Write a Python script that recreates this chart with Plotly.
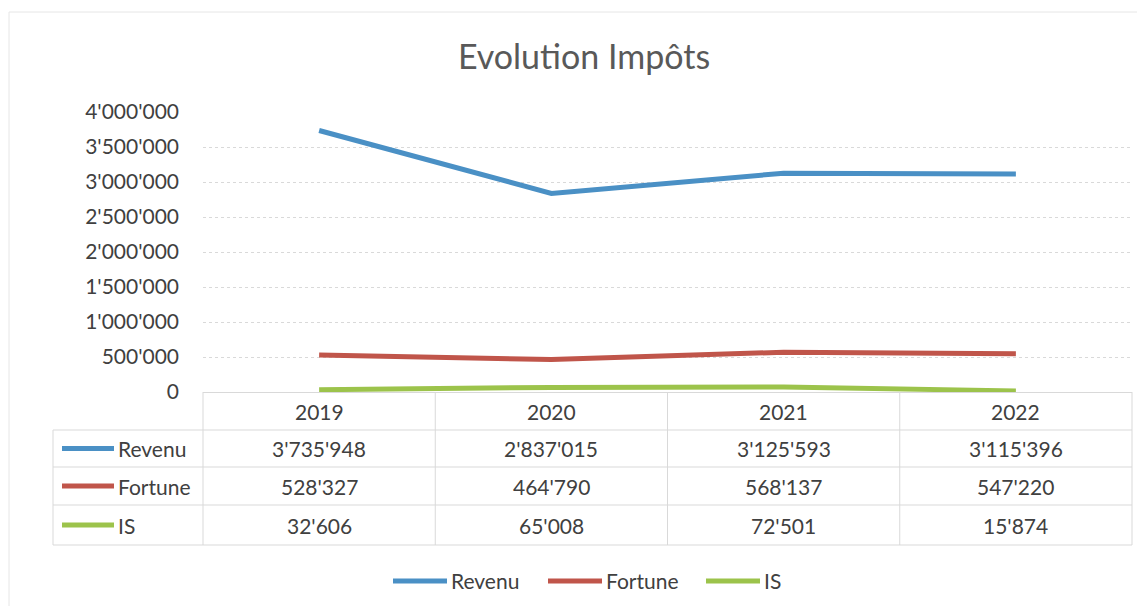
import plotly.graph_objects as go

annees = ["2019", "2020", "2021", "2022"]
revenu = [3735948, 2837015, 3125593, 3115396]
fortune = [528327, 464790, 568137, 547220]
impot_source = [32606, 65008, 72501, 15874]

series = [
    ("Revenu", revenu, "#4a90c5"),
    ("Fortune", fortune, "#c0554a"),
    ("IS", impot_source, "#9cc34b"),
]

y_ticks = [0, 500000, 1000000, 1500000, 2000000, 2500000, 3000000, 3500000, 4000000]

W, H = 1145, 612
OFF = 8  # marge du body html
FONT = "Lato"
TXT = "#404040"
GRID = "#d9d9d9"
FS = 21


def fmt(v):
    return f"{v:,}".replace(",", "'")


def px_x(x):
    return (x - OFF) / W


def px_y(y):
    return 1 - (y - OFF) / H


# zone de tracé (pixels dans la capture)
x0, x1 = 203, 1132
y_top, y_zero = 112, 392

fig = go.Figure()
for nom, vals, col in series:
    fig.add_trace(go.Scatter(
        x=annees, y=vals, name=nom, mode="lines",
        line=dict(color=col, width=5), showlegend=False,
    ))

shapes = []
annotations = []


def ligne(xa, xb, ya, yb, col=GRID, w=1):
    shapes.append(dict(type="line", xref="paper", yref="paper",
                       x0=px_x(xa), x1=px_x(xb), y0=px_y(ya), y1=px_y(yb),
                       line=dict(color=col, width=w)))


def texte(x, y, t, anchor="center"):
    annotations.append(dict(x=px_x(x), y=px_y(y), xref="paper", yref="paper",
                            xanchor=anchor, yanchor="middle", text=t, showarrow=False,
                            font=dict(size=FS, color=TXT, family=FONT)))


# cadre du graphique
ligne(9, 9, 12, 606, "#e6e6e6")
ligne(9, 1145, 12, 12, "#e6e6e6")

# tableau de données
col_w = (x1 - x0) / len(annees)
rows_y = [392, 430, 467, 505, 545]
for i in range(len(annees) + 1):
    xx = x0 + i * col_w
    ligne(xx, xx, 392, 545)
ligne(53, 53, 430, 545)
for yy in rows_y[1:]:
    ligne(53, x1, yy, yy)

for i, a in enumerate(annees):
    texte(x0 + (i + 0.5) * col_w, 411, a)

for r, (nom, vals, col) in enumerate(series):
    yc = (rows_y[r + 1] + rows_y[r + 2]) / 2
    ligne(62, 114, yc, yc, col, 5)
    texte(116, yc, nom, "left")
    for i, v in enumerate(vals):
        texte(x0 + (i + 0.5) * col_w, yc, fmt(v))

# légende du bas
leg_x = [393, 548, 706]
for (nom, vals, col), lx in zip(series, leg_x):
    ligne(lx, lx + 54, 581, 581, col, 5)
    texte(lx + 56, 580, nom, "left")

fig.update_layout(
    width=W, height=H,
    margin=dict(l=0, r=0, t=0, b=0, autoexpand=False),
    paper_bgcolor="white", plot_bgcolor="white",
    title=dict(text="Evolution Impôts", x=px_x(584), xanchor="center", y=px_y(57), yanchor="middle",
               font=dict(size=34, color="#595959", family=FONT)),
    font=dict(family=FONT, color=TXT),
    xaxis=dict(domain=[px_x(x0), px_x(x1)], range=[-0.5, 3.5], showticklabels=False,
               showgrid=False, zeroline=False, showline=False, automargin=False),
    yaxis=dict(domain=[px_y(y_zero), px_y(y_top)], range=[0, 4000000],
               tickvals=y_ticks, ticktext=[fmt(v) for v in y_ticks],
               tickfont=dict(size=FS, color=TXT, family=FONT), ticks="", ticklabelstandoff=23,
               showgrid=True, gridcolor=GRID, griddash="dot", gridwidth=1,
               zeroline=True, zerolinecolor=GRID, zerolinewidth=1, showline=False,
               automargin=False),
    shapes=shapes,
    annotations=annotations,
)

fig.write_html("out.html")
